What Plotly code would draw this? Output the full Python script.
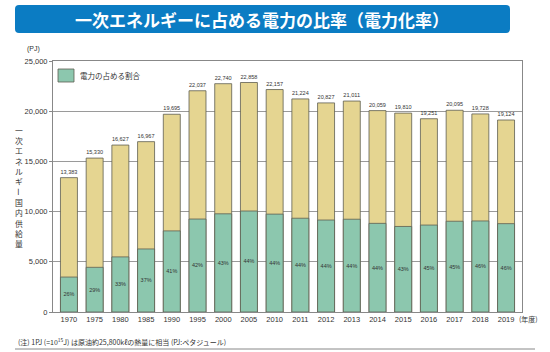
import plotly.graph_objects as go

years = ["1970", "1975", "1980", "1985", "1990", "1995", "2000", "2005", "2010",
         "2011", "2012", "2013", "2014", "2015", "2016", "2017", "2018", "2019"]
total_supply = [13383, 15330, 16627, 16967, 19695, 22037, 22740, 22858, 22157,
                21224, 20827, 21011, 20059, 19810, 19251, 20095, 19728, 19124]
electricity = [3480, 4450, 5490, 6280, 8080, 9260, 9780, 10060, 9750,
               9340, 9160, 9240, 8830, 8520, 8660, 9040, 9070, 8800]
pct_labels = ["26%", "29%", "33%", "37%", "41%", "42%", "43%", "44%", "44%",
              "44%", "44%", "44%", "44%", "43%", "45%", "45%", "46%", "46%"]
y_ticks = [0, 5000, 10000, 15000, 20000, 25000]

W, H = 550, 352
L, R, T, B = 53, 28, 61, 40
PW, PH = W - L - R, H - T - B

def px(x):
    return (x - L) / PW

def py(y):
    return 1 - (y - T) / PH

FONT = "Liberation Sans, Noto Sans CJK JP, sans-serif"
JP = "Noto Sans CJK JP, sans-serif"
TXT = "#333333"
YELLOW = "#e5d591"
GREEN = "#8cc7ae"
EDGE = "#5e5e50"

fig = go.Figure()
fig.add_trace(go.Bar(
    x=years, y=total_supply, width=0.66,
    marker=dict(color=YELLOW, line=dict(color=EDGE, width=0.8)),
    text=[f"{v:,}" for v in total_supply], textposition="outside",
    textfont=dict(size=7, color=TXT, family=FONT), cliponaxis=False,
    showlegend=False, name="一次エネルギー国内供給量"))
fig.add_trace(go.Bar(
    x=years, y=electricity, width=0.66,
    marker=dict(color=GREEN, line=dict(color=EDGE, width=0.8)),
    text=pct_labels, textposition="inside", insidetextanchor="middle",
    textangle=0, textfont=dict(size=7, color=TXT, family=FONT),
    showlegend=False, name="電力の占める割合"))

shapes = []
x0, x1, y0, y1, r = 15, 510, 5, 33, 4
path = (f"M {px(x0+r)},{py(y0)} L {px(x1-r)},{py(y0)} Q {px(x1)},{py(y0)} {px(x1)},{py(y0+r)} "
        f"L {px(x1)},{py(y1-r)} Q {px(x1)},{py(y1)} {px(x1-r)},{py(y1)} "
        f"L {px(x0+r)},{py(y1)} Q {px(x0)},{py(y1)} {px(x0)},{py(y1-r)} "
        f"L {px(x0)},{py(y0+r)} Q {px(x0)},{py(y0)} {px(x0+r)},{py(y0)} Z")
shapes.append(dict(type="path", xref="paper", yref="paper", path=path,
                   fillcolor="#0b7cc3", line=dict(width=0), layer="below"))
shapes.append(dict(type="rect", xref="paper", yref="paper",
                   x0=px(58), x1=px(74), y0=py(82), y1=py(69),
                   fillcolor=GREEN, line=dict(color=EDGE, width=0.8)))
shapes.append(dict(type="line", xref="paper", yref="paper",
                   x0=px(15), x1=px(535), y0=py(349), y1=py(349),
                   line=dict(color="#888888", width=1)))

def note(text, x, y, size, family=JP, xanchor="center", color=TXT, angle=0):
    return dict(text=text, x=px(x), y=py(y), xref="paper", yref="paper",
                xanchor=xanchor, yanchor="middle", showarrow=False, textangle=angle,
                font=dict(size=size, color=color, family=family))

ann = []
ann.append(note("<b>一次エネルギーに占める電力の比率（電力化率）</b>", 262, 19.5, 17, color="white"))
ann.append(note("電力の占める割合", 78, 75.5, 7.5, xanchor="left"))
ann.append(note("(PJ)", 33, 48.5, 7, family=FONT))
ann.append(note("(年度)", 528, 318.5, 7))
ann.append(note("(注) 1PJ (=10<sup>15</sup>J) は原油約25,800kℓの熱量に相当 (PJ:ペタジュール)",
                16, 341.5, 7, xanchor="left"))
ytitle = "一次エネルギー国内供給量"
for i, ch in enumerate(ytitle):
    ann.append(note(ch, 19, 130 + i * 10.35, 7.8, angle=90 if ch == "ー" else 0))

fig.update_layout(
    width=W, height=H, margin=dict(l=L, r=R, t=T, b=B),
    paper_bgcolor="white", plot_bgcolor="white",
    barmode="overlay", shapes=shapes, annotations=ann,
    font=dict(family=FONT, color=TXT),
    xaxis=dict(type="category", range=[-0.62, 17.62], showgrid=False,
               showline=True, linecolor="#888888", linewidth=1, mirror=True,
               ticks="", tickfont=dict(size=7.5, color=TXT, family=FONT)),
    yaxis=dict(range=[0, 25000], tickvals=y_ticks, tickformat=",",
               showgrid=True, gridcolor="#9a9a9a", gridwidth=1,
               showline=True, linecolor="#888888", linewidth=1, mirror=True,
               ticks="outside", ticklen=3, tickcolor="#888888",
               tickfont=dict(size=7.5, color=TXT, family=FONT), zeroline=False),
)
fig.write_html("out.html")
